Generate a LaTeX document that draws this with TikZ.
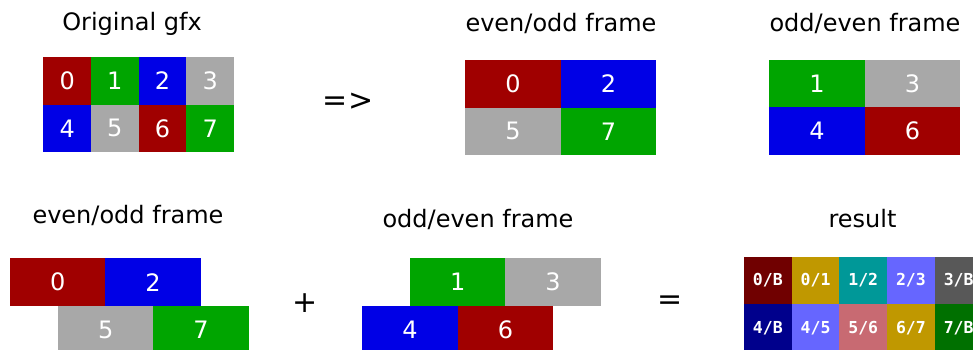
\documentclass[tikz,border=0pt]{standalone}
\usepackage{fontspec}
\setmainfont{DejaVu Sans}
\newfontfamily\cellmono{DejaVu Sans Mono}
\definecolor{pxred}{HTML}{A00000}
\definecolor{pxgreen}{HTML}{00A500}
\definecolor{pxblue}{HTML}{0000E6}
\definecolor{pxgray}{HTML}{A8A8A8}
\definecolor{rsA}{HTML}{700000}
\definecolor{rsB}{HTML}{C09800}
\definecolor{rsC}{HTML}{009898}
\definecolor{rsD}{HTML}{6666FF}
\definecolor{rsE}{HTML}{585858}
\definecolor{rsF}{HTML}{00008C}
\definecolor{rsG}{HTML}{C86A72}
\definecolor{rsH}{HTML}{007000}
\tikzset{
  pix/.style={rectangle, inner sep=0pt, outer sep=0pt, anchor=north west,
    text=white, font=\fontsize{24}{24}\selectfont},
  small/.style={pix, minimum width=47.7pt, minimum height=47.6pt},
  wide/.style={pix, minimum width=95.4pt, minimum height=47.6pt},
  res/.style={pix, minimum width=47.7pt, minimum height=47.5pt,
    font=\cellmono\bfseries\fontsize{16.5}{16.5}\selectfont},
  title/.style={anchor=base, inner sep=0pt, font=\fontsize{24}{24}\selectfont},
  op/.style={inner sep=0pt, font=\fontsize{30}{30}\selectfont}
}
\begin{document}
\begin{tikzpicture}[x=1pt,y=-1pt]
\clip (0,0) rectangle (973,349);
\fill[white] (0,0) rectangle (973,349);

% source tiles
\node[title] (tOrig) at (132,30) {Original gfx};
\node[small, fill=pxred]   (o0) at (43.3,57)   {0};
\node[small, fill=pxgreen] (o1) at (91,57)     {1};
\node[small, fill=pxblue]  (o2) at (138.7,57)  {2};
\node[small, fill=pxgray]  (o3) at (186.4,57)  {3};
\node[small, fill=pxblue]  (o4) at (43.3,104.6) {4};
\node[small, fill=pxgray]  (o5) at (91,104.6)   {5};
\node[small, fill=pxred]   (o6) at (138.7,104.6) {6};
\node[small, fill=pxgreen] (o7) at (186.4,104.6) {7};

\node[op] (imp) at (348,102) {=>};

% split frames
\node[title] (tEO) at (561,31) {even/odd frame};
\node[wide, fill=pxred]   (e0) at (465.3,60)  {0};
\node[wide, fill=pxblue]  (e2) at (560.7,60)  {2};
\node[wide, fill=pxgray]  (e5) at (465.3,107.5) {5};
\node[wide, fill=pxgreen] (e7) at (560.7,107.5) {7};

\node[title] (tOE) at (865,31) {odd/even frame};
\node[wide, fill=pxgreen] (d1) at (769.3,60)  {1};
\node[wide, fill=pxgray]  (d3) at (864.7,60)  {3};
\node[wide, fill=pxblue]  (d4) at (769.3,107.3) {4};
\node[wide, fill=pxred]   (d6) at (864.7,107.3) {6};

% shifted frames
\node[title] (tEO2) at (128,223.3) {even/odd frame};
\node[wide, fill=pxred]   (f0) at (10,258.3)   {0};
\node[wide, fill=pxblue]  (f2) at (105.4,258.3) {2};
\node[wide, fill=pxgray]  (f5) at (58,305.8)  {5};
\node[wide, fill=pxgreen] (f7) at (153.4,305.8) {7};

\node[op] (plus) at (305.5,303) {+};

\node[title] (tOE2) at (478,227.3) {odd/even frame};
\node[wide, fill=pxgreen] (g1) at (410,258.3)   {1};
\node[wide, fill=pxgray]  (g3) at (505.4,258.3) {3};
\node[wide, fill=pxblue]  (g4) at (362.3,305.8) {4};
\node[wide, fill=pxred]   (g6) at (457.7,305.8) {6};

\node[op] (eq) at (670.5,303) {=};

% blended result
\node[title] (tRes) at (862.5,227.3) {result};
\node[res, fill=rsA] (r0) at (744,256.5)   {0/B};
\node[res, fill=rsB] (r1) at (791.7,256.5) {0/1};
\node[res, fill=rsC] (r2) at (839.4,256.5) {1/2};
\node[res, fill=rsD] (r3) at (887.1,256.5) {2/3};
\node[res, fill=rsE] (r4) at (934.8,256.5) {3/B};
\node[res, fill=rsF] (r5) at (744,304)     {4/B};
\node[res, fill=rsD] (r6) at (791.7,304)   {4/5};
\node[res, fill=rsG] (r7) at (839.4,304)   {5/6};
\node[res, fill=rsB] (r8) at (887.1,304)   {6/7};
\node[res, fill=rsH] (r9) at (934.8,304)   {7/B};
\end{tikzpicture}
\end{document}
